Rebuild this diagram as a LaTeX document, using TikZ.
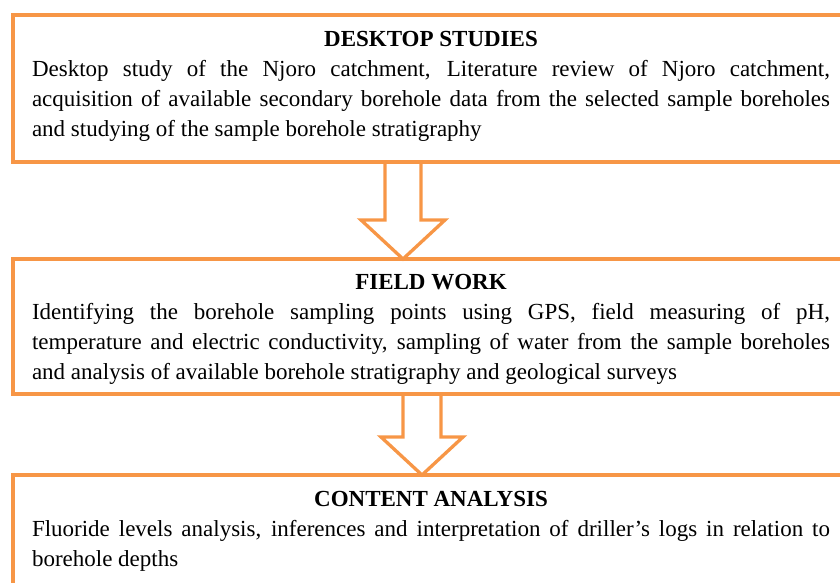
\documentclass[tikz,border=0pt]{standalone}
\usepackage{fontspec}
\setmainfont{Liberation Serif}
\usetikzlibrary{positioning}
\usetikzlibrary{calc}
\definecolor{stageorange}{HTML}{F79646}
\tolerance=10000
\hbadness=10000
\tikzset{
  stagebox/.style= {
    rectangle,
    draw = stageorange,
    line width = 4pt,
    outer sep = 0pt,
    inner xsep = 19pt,
    inner ysep = 0pt,
    text width = 798pt,
    align = justify,
    font = \fontsize{23pt}{29.7pt}\selectfont
  },
  hollowarrow/.style= {
    draw = stageorange,
    line width = 3.3pt
  }
}
\begin{document}
\begin{tikzpicture}
  \useasboundingbox (0,0) rectangle (840pt,583pt);
  \clip (0,0) rectangle (840pt,583pt);

  \node[stagebox,anchor=north west,text height=32pt,text depth=115pt] (desk) at (13pt,568pt) {
    {\centering\bfseries DESKTOP STUDIES\par}
    Desktop study of the Njoro catchment, Literature review of Njoro catchment,\linebreak
    acquisition of available secondary borehole data from the selected sample boreholes\linebreak
    and studying of the sample borehole stratigraphy};

  \node[stagebox,below=97pt of desk,text height=31pt,text depth=104pt] (field) {
    {\centering\bfseries FIELD WORK\par}
    Identifying the borehole sampling points using GPS, field measuring of pH,\linebreak
    temperature and electric conductivity, sampling of water from the sample boreholes\linebreak
    and analysis of available borehole stratigraphy and geological surveys};

  \node[stagebox,below=81pt of field,text height=32pt,text depth=130pt] (content) {
    {\centering\bfseries CONTENT ANALYSIS\par}
    Fluoride levels analysis, inferences and interpretation of driller’s logs in relation to\linebreak
    borehole depths};

  \coordinate (a1top) at ($(desk.south west)+(390pt,0)$);
  \coordinate (a1tip) at ($(field.north west)+(390pt,0)$);
  \draw[hollowarrow] ($(a1top)+(-18pt,0)$) -- ($(a1tip)+(-18pt,39pt)$) -- ($(a1tip)+(-42pt,39pt)$)
    -- (a1tip) -- ($(a1tip)+(42pt,39pt)$) -- ($(a1tip)+(18pt,39pt)$) -- ($(a1top)+(18pt,0)$);

  \coordinate (a2top) at ($(field.south west)+(409pt,0)$);
  \coordinate (a2tip) at ($(content.north west)+(409pt,0)$);
  \draw[hollowarrow] ($(a2top)+(-19pt,0)$) -- ($(a2tip)+(-19pt,38pt)$) -- ($(a2tip)+(-41pt,38pt)$)
    -- (a2tip) -- ($(a2tip)+(41pt,38pt)$) -- ($(a2tip)+(19pt,38pt)$) -- ($(a2top)+(19pt,0)$);
\end{tikzpicture}
\end{document}
